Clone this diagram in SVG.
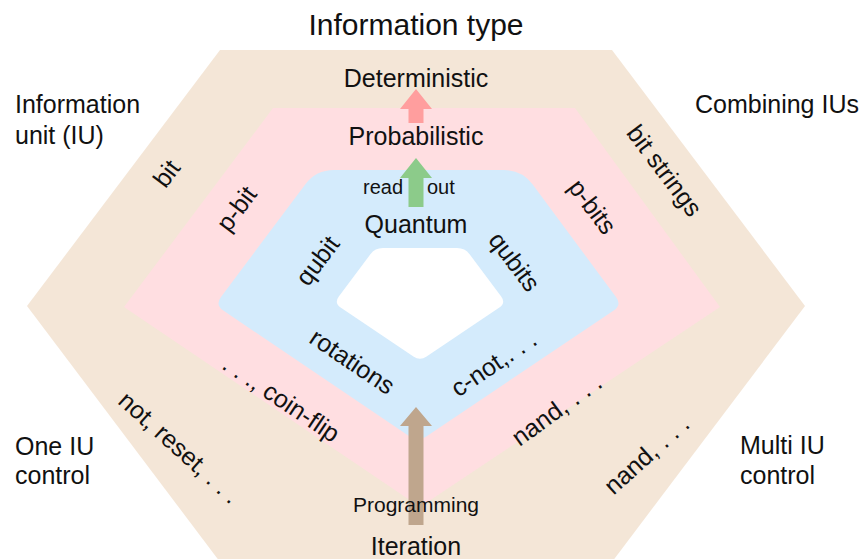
<svg xmlns="http://www.w3.org/2000/svg" width="865" height="559" viewBox="0 0 865 559">
<style>
text{font-family:"Liberation Sans",Arial,sans-serif;fill:#111;font-size:25px}
.c{text-anchor:middle}
.s{font-size:20px}
</style>
<rect width="865" height="559" fill="#fff"/>
<g id="deterministic-layer">
<polygon points="220,50 612,50 805,306 612,562 220,562 27,306" fill="#F4E6D7"/>
</g>
<g id="probabilistic-layer">
<polygon points="273,108 575,108 720,307 420,507 124,307" fill="#FFDEE1"/>
</g>
<g id="quantum-layer">
<path d="M334,170 L504,170 Q522,170 532.7,184.5 L616,297 Q622,305 613.7,310.6 L426.3,436.4 Q418,442 409.7,436.4 L223.3,310.6 Q215,305 221,297 L305.2,184.4 Q316,170 334,170 Z" fill="#D4EBFC"/>
</g>
<g id="core">
<path d="M383,248 L457,248 Q465,248 469.8,254.4 L501.2,296.6 Q506,303 499.4,307.5 L426.6,356.5 Q420,361 413.4,356.5 L340.6,307.5 Q334,303 338.8,296.6 L370.2,254.4 Q375,248 383,248 Z" fill="#fff"/>
</g>
<g id="connectors">
<polygon points="408.5,123 408.5,109 400,109 416,89 432,109 423.5,109 423.5,123" fill="#FF9E9E"/>
<polygon points="408.5,207 408.5,178 400,178 416,158 432,178 423.5,178 423.5,207" fill="#8CCB8A"/>
<polygon points="408.5,525 408.5,426 400,426 416,407 432,426 423.5,426 423.5,525" fill="#BFA68D"/>
</g>
<g id="labels">
<text class="c" x="416" y="35" style="font-size:30px">Information type</text>
<text class="c" x="416" y="87">Deterministic</text>
<text class="c" x="416" y="145">Probabilistic</text>
<text class="s" x="403" y="194" text-anchor="end">read</text>
<text class="s" x="427" y="194">out</text>
<text class="c" x="416" y="233">Quantum</text>
<text class="c" x="416" y="512" style="font-size:21px">Programming</text>
<text class="c" x="416" y="555">Iteration</text>
<text x="15" y="113">Information</text>
<text x="15" y="144">unit (IU)</text>
<text x="695" y="113">Combining IUs</text>
<text x="15" y="455">One IU</text>
<text x="15" y="484">control</text>
<text x="740" y="454">Multi IU</text>
<text x="740" y="484">control</text>
</g>
<g id="rotated-labels">
<text class="c" transform="translate(167,174) rotate(-53)" y="8">bit</text>
<text class="c" transform="translate(237,209) rotate(-53)" y="8">p-bit</text>
<text class="c" transform="translate(318,261) rotate(-53)" y="8">qubit</text>
<text class="c" transform="translate(664,171) rotate(53)" y="8">bit strings</text>
<text class="c" transform="translate(592,207) rotate(53)" y="8">p-bits</text>
<text class="c" transform="translate(514,262) rotate(53)" y="8">qubits</text>
<text class="c" transform="translate(352,362) rotate(34)" y="8">rotations</text>
<text class="c" transform="translate(281,399) rotate(34)" y="8">. . ., coin-flip</text>
<text class="c" transform="translate(179,448) rotate(42)" y="8">not, reset, . . .</text>
<text class="c" transform="translate(494,364) rotate(-34)" y="8">c-not,. . .</text>
<text class="c" transform="translate(557,410) rotate(-36)" y="8">nand, . . .</text>
<text class="c" transform="translate(647,455) rotate(-42)" y="8">nand, . . .</text>
</g>
</svg>
